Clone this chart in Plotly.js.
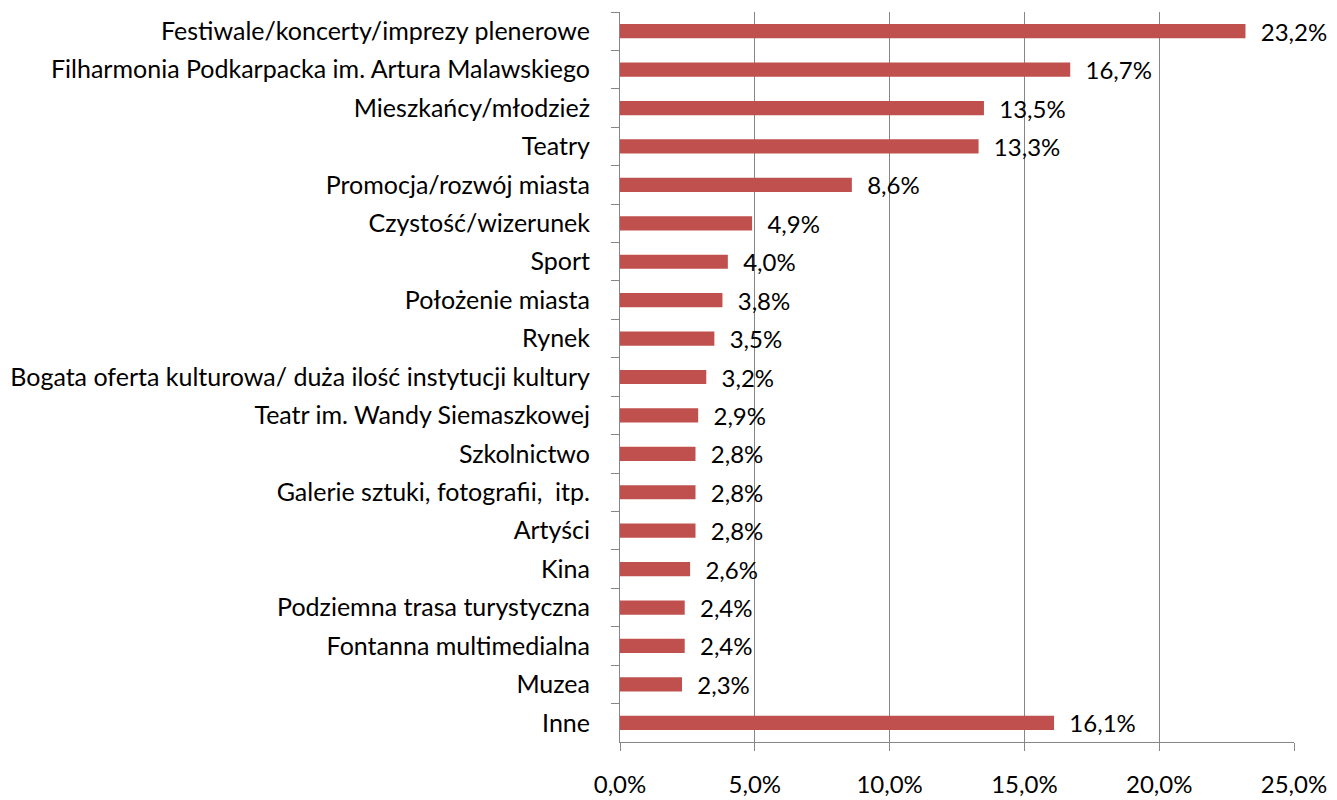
<!DOCTYPE html>
<html>
<head>
<meta charset="utf-8">
<script src="https://cdn.plot.ly/plotly-3.0.1.min.js"></script>
<style>
  html, body { margin: 0; padding: 0; background: #fff; }
  #wykres { width: 1337px; height: 800px; }
</style>
</head>
<body>
<div id="wykres"></div>
<script>
// Kategorie (od góry do dołu)
const kategorie = [
    'Festiwale/koncerty/imprezy plenerowe',
    'Filharmonia Podkarpacka im. Artura Malawskiego',
    'Mieszkańcy/młodzież',
    'Teatry',
    'Promocja/rozwój miasta',
    'Czystość/wizerunek',
    'Sport',
    'Położenie miasta',
    'Rynek',
    'Bogata oferta kulturowa/ duża ilość instytucji kultury',
    'Teatr im. Wandy Siemaszkowej',
    'Szkolnictwo',
    'Galerie sztuki, fotografii,  itp.',
    'Artyści',
    'Kina',
    'Podziemna trasa turystyczna',
    'Fontanna multimedialna',
    'Muzea',
    'Inne'
];

// Wartości w procentach
const wartosci = [23.2, 16.7, 13.5, 13.3, 8.6, 4.9, 4.0, 3.8, 3.5, 3.2, 2.9, 2.8, 2.8, 2.8, 2.6, 2.4, 2.4, 2.3, 16.1];

// Etykiety osi X
const tickiX = [0, 5, 10, 15, 20, 25];

const szary = '#868686';
const czcionka = 'Lato, sans-serif';

const dane = [
    {
        type: 'bar',
        orientation: 'h',
        x: wartosci,
        y: kategorie,
        marker: { color: '#C0504D' },
        texttemplate: '\u00a0\u00a0%{x:.1f}%',
        textposition: 'outside',
        constraintext: 'none',
        cliponaxis: false,
        textfont: { family: czcionka, size: 24, color: '#000' },
        hoverinfo: 'skip'
    }
];

const uklad = {
    width: 1337,
    height: 800,
    margin: { l: 620, r: 43, t: 12, b: 58 },
    separators: ', ',
    bargap: 0.63,
    showlegend: false,
    plot_bgcolor: '#fff',
    paper_bgcolor: '#fff',
    xaxis: {
        range: [0, 25],
        tickvals: tickiX,
        ticktext: tickiX.map(v => v.toFixed(1).replace('.', ',') + '%'),
        showgrid: true,
        gridcolor: szary,
        gridwidth: 1,
        showline: true,
        linecolor: szary,
        ticks: 'outside',
        ticklen: 8,
        tickcolor: szary,
        ticklabelstandoff: 13,
        zeroline: false,
        tickfont: { family: czcionka, size: 24, color: '#000' }
    },
    yaxis: {
        type: 'category',
        autorange: 'reversed',
        showline: true,
        linecolor: szary,
        ticks: 'outside',
        tickson: 'boundaries',
        ticklen: 8,
        tickcolor: szary,
        ticklabelstandoff: 24,
        showgrid: false,
        tickfont: { family: czcionka, size: 25, color: '#000' }
    }
};

Plotly.newPlot('wykres', dane, uklad, { displayModeBar: false, staticPlot: true });
</script>
</body>
</html>
